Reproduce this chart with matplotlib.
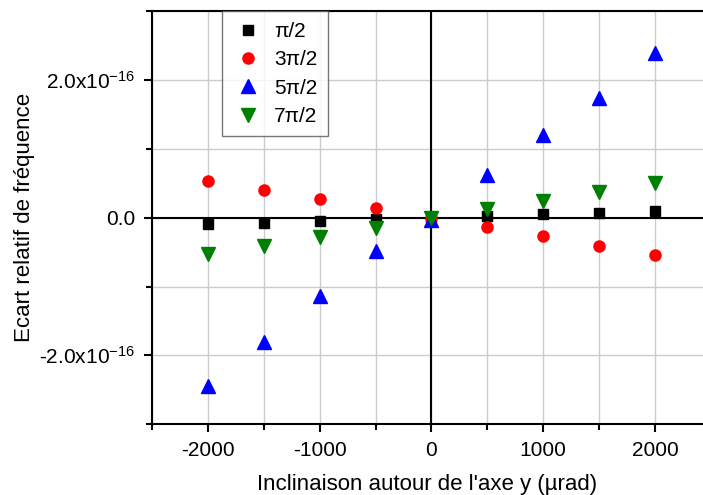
import matplotlib
matplotlib.use('Agg')
import matplotlib.pyplot as plt
from matplotlib.ticker import MultipleLocator, FixedLocator, FixedFormatter

plt.rcParams['font.family'] = ['Liberation Sans', 'DejaVu Sans']
plt.rcParams['mathtext.default'] = 'regular'
plt.rcParams['axes.unicode_minus'] = False

# inclinaison (urad) and relative frequency deviation (units of 1e-16)
incl = [-2000, -1500, -1000, -500, 0, 500, 1000, 1500, 2000]
pi_2 = [-0.095, -0.07, -0.05, -0.025, 0.0, 0.025, 0.05, 0.07, 0.095]
pi3_2 = [0.53, 0.40, 0.27, 0.14, 0.0, -0.13, -0.26, -0.41, -0.54]
pi5_2 = [-2.44, -1.81, -1.14, -0.49, -0.03, 0.62, 1.21, 1.74, 2.39]
pi7_2 = [-0.53, -0.41, -0.28, -0.15, 0.0, 0.12, 0.25, 0.38, 0.51]
scale = 1e-16

ytick_vals = [-2e-16, 0, 2e-16]
ytick_labels = [r'-2.0x10$^{-16}$', '0.0', r'2.0x10$^{-16}$']

fig = plt.figure(figsize=(7.03, 4.95), dpi=100)
ax = fig.add_axes([0.2162, 0.1434, 0.7838, 0.8334])

ax.plot(incl, [v*scale for v in pi_2], 's', color='black', ms=7.5, label='π/2', zorder=5)
ax.plot(incl, [v*scale for v in pi3_2], 'o', color='red', ms=8, label='3π/2', zorder=5)
ax.plot(incl, [v*scale for v in pi5_2], '^', color='blue', ms=9.5, label='5π/2', zorder=5)
ax.plot(incl, [v*scale for v in pi7_2], 'v', color='green', ms=9.5, label='7π/2', zorder=5)

ax.axhline(0, color='black', lw=1.5, zorder=3)
ax.axvline(0, color='black', lw=1.5, zorder=3)

ax.set_xlim(-2500, 2429)
ax.set_ylim(-3e-16, 3e-16)

ax.xaxis.set_major_locator(MultipleLocator(1000))
ax.xaxis.set_minor_locator(MultipleLocator(500))
ax.yaxis.set_major_locator(FixedLocator(ytick_vals))
ax.yaxis.set_major_formatter(FixedFormatter(ytick_labels))
ax.yaxis.set_minor_locator(FixedLocator([-3e-16, -1e-16, 1e-16, 3e-16]))

ax.grid(True, which='both', color='#cccccc', lw=1, zorder=0)
ax.set_axisbelow(True)

ax.spines['right'].set_visible(False)
for s in ['left', 'bottom', 'top']:
    ax.spines[s].set_linewidth(1.5)

ax.tick_params(which='major', direction='out', length=6, width=1.5, labelsize=15, pad=6)
ax.tick_params(which='minor', direction='out', length=4, width=1.5)
ax.tick_params(top=False, right=False)

ax.set_xlabel("Inclinaison autour de l'axe y (µrad)", fontsize=16, labelpad=10)
ax.set_ylabel("Ecart relatif de fréquence", fontsize=16, labelpad=3)

leg = ax.legend(loc='upper left', bbox_to_anchor=(0.127, 1.0), fontsize=15,
                frameon=True, fancybox=False, edgecolor='#555555',
                handletextpad=0.5, borderpad=0.5, labelspacing=0.45,
                handlelength=1.5, borderaxespad=0)
leg.get_frame().set_linewidth(1)

plt.savefig('out.png', dpi=100)
